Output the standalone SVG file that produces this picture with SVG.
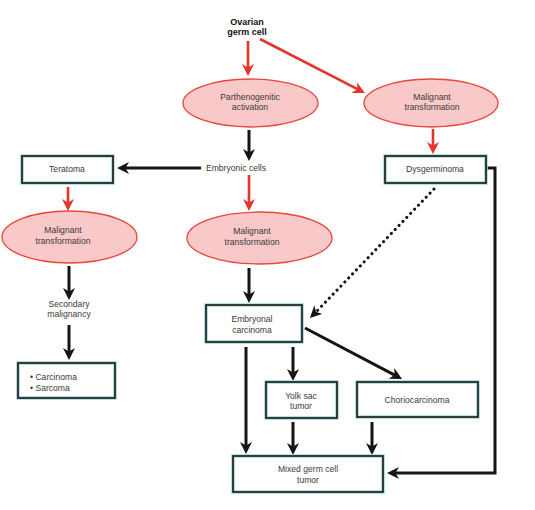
<svg xmlns="http://www.w3.org/2000/svg" width="535" height="510" viewBox="0 0 535 510">
<style>
text{font-family:"Liberation Sans",Arial,sans-serif;font-size:8.6px;fill:#3a3a3a;text-anchor:middle}
.b{font-weight:bold;fill:#111;font-size:9px}
.ell{fill:#f9c8c8;stroke:#e8473c;stroke-width:1.3}
.boxo{fill:#fff;stroke:#a6dada;stroke-width:3.6}
.boxi{fill:none;stroke:#1e1e1e;stroke-width:1.7}
.k{stroke:#151515;stroke-width:3;fill:none}
.r{stroke:#e3362b;stroke-width:2.6;fill:none}
.d{stroke:#151515;stroke-width:3;fill:none;stroke-dasharray:0.1 5.5;stroke-linecap:round}
</style>
<defs>
<marker id="ak" viewBox="0 0 12 12" refX="8" refY="6" markerWidth="12" markerHeight="12" markerUnits="userSpaceOnUse" orient="auto"><path d="M0,0 L12,6 L0,12 L3.5,6 z" fill="#151515"/></marker>
<marker id="ar" viewBox="0 0 12 12" refX="8" refY="6" markerWidth="12" markerHeight="12" markerUnits="userSpaceOnUse" orient="auto"><path d="M0,0 L12,6 L0,12 L3.5,6 z" fill="#e3362b"/></marker>
</defs>
<rect width="535" height="510" fill="#fff"/>
<g id="connectors">
<line class="r" x1="248" y1="41" x2="248" y2="72" marker-end="url(#ar)"/>
<line class="r" x1="260" y1="39" x2="361.4" y2="91.2" marker-end="url(#ar)"/>
<line class="k" x1="249" y1="130" x2="249" y2="157" marker-end="url(#ak)"/>
<line class="k" x1="201" y1="168" x2="121" y2="168" marker-end="url(#ak)"/>
<line class="r" x1="249" y1="175" x2="249" y2="207" marker-end="url(#ar)"/>
<line class="r" x1="433" y1="129" x2="433" y2="150" marker-end="url(#ar)"/>
<line class="r" x1="68" y1="187" x2="68" y2="207" marker-end="url(#ar)"/>
<line class="k" x1="69" y1="266" x2="69" y2="296" marker-end="url(#ak)"/>
<line class="k" x1="69" y1="325" x2="69" y2="356" marker-end="url(#ak)"/>
<line class="k" x1="249" y1="268" x2="249" y2="299" marker-end="url(#ak)"/>
<line class="d" x1="434" y1="189" x2="316" y2="312"/>
<path class="k" d="M316,312 L312.8,315.1" marker-end="url(#ak)"/>
<polyline class="k" points="486,168 495,168 495,473 391,473" marker-end="url(#ak)"/>
<line class="k" x1="246" y1="347" x2="246" y2="450" marker-end="url(#ak)"/>
<line class="k" x1="293" y1="347" x2="293" y2="377" marker-end="url(#ak)"/>
<line class="k" x1="305" y1="328" x2="398.5" y2="377.1" marker-end="url(#ak)"/>
<line class="k" x1="293" y1="422" x2="293" y2="451" marker-end="url(#ak)"/>
<line class="k" x1="372" y1="422" x2="372" y2="451" marker-end="url(#ak)"/>
</g>
<g id="ovarian"><text class="b" x="247" y="25">Ovarian</text><text class="b" x="247" y="35">germ cell</text></g>
<g id="parthenogenitic"><ellipse class="ell" cx="250.5" cy="103" rx="67.5" ry="24"/><text x="250" y="99.5">Parthenogenitic</text><text x="250" y="110">activation</text></g>
<g id="malignant1"><ellipse class="ell" cx="431" cy="103" rx="67" ry="24"/><text x="432" y="99.5">Malignant</text><text x="432" y="110">transformation</text></g>
<g id="embryonic"><text x="236" y="171">Embryonic cells</text></g>
<g id="teratoma"><rect class="boxo" x="22" y="156" width="91" height="27"/><rect class="boxi" x="22" y="156" width="91" height="27"/><text x="67" y="172">Teratoma</text></g>
<g id="dysgerminoma"><rect class="boxo" x="385" y="156" width="101" height="27"/><rect class="boxi" x="385" y="156" width="101" height="27"/><text x="435" y="172">Dysgerminoma</text></g>
<g id="malignant2"><ellipse class="ell" cx="69.5" cy="237" rx="67.5" ry="26"/><text x="63" y="233">Malignant</text><text x="63" y="243.5">transformation</text></g>
<g id="malignant3"><ellipse class="ell" cx="259.5" cy="238" rx="72.5" ry="26"/><text x="252" y="234">Malignant</text><text x="252" y="244.5">transformation</text></g>
<g id="secondary"><text x="69" y="307">Secondary</text><text x="69" y="317">malignancy</text></g>
<g id="carcinoma"><rect class="boxo" x="18" y="363" width="97" height="35"/><rect class="boxi" x="18" y="363" width="97" height="35"/><text x="30" y="380" style="text-anchor:start">• Carcinoma</text><text x="30" y="391" style="text-anchor:start">• Sarcoma</text></g>
<g id="embryonal"><rect class="boxo" x="206" y="305" width="96" height="37"/><rect class="boxi" x="206" y="305" width="96" height="37"/><text x="252" y="322">Embryonal</text><text x="252" y="333">carcinoma</text></g>
<g id="yolksac"><rect class="boxo" x="266" y="382" width="71" height="36"/><rect class="boxi" x="266" y="382" width="71" height="36"/><text x="301" y="399">Yolk sac</text><text x="301" y="409">tumor</text></g>
<g id="chorio"><rect class="boxo" x="357" y="382" width="121" height="35"/><rect class="boxi" x="357" y="382" width="121" height="35"/><text x="417" y="403">Choriocarcinoma</text></g>
<g id="mixed"><rect class="boxo" x="233" y="456" width="150" height="36"/><rect class="boxi" x="233" y="456" width="150" height="36"/><text x="308" y="472">Mixed germ cell</text><text x="308" y="483">tumor</text></g>
</svg>
